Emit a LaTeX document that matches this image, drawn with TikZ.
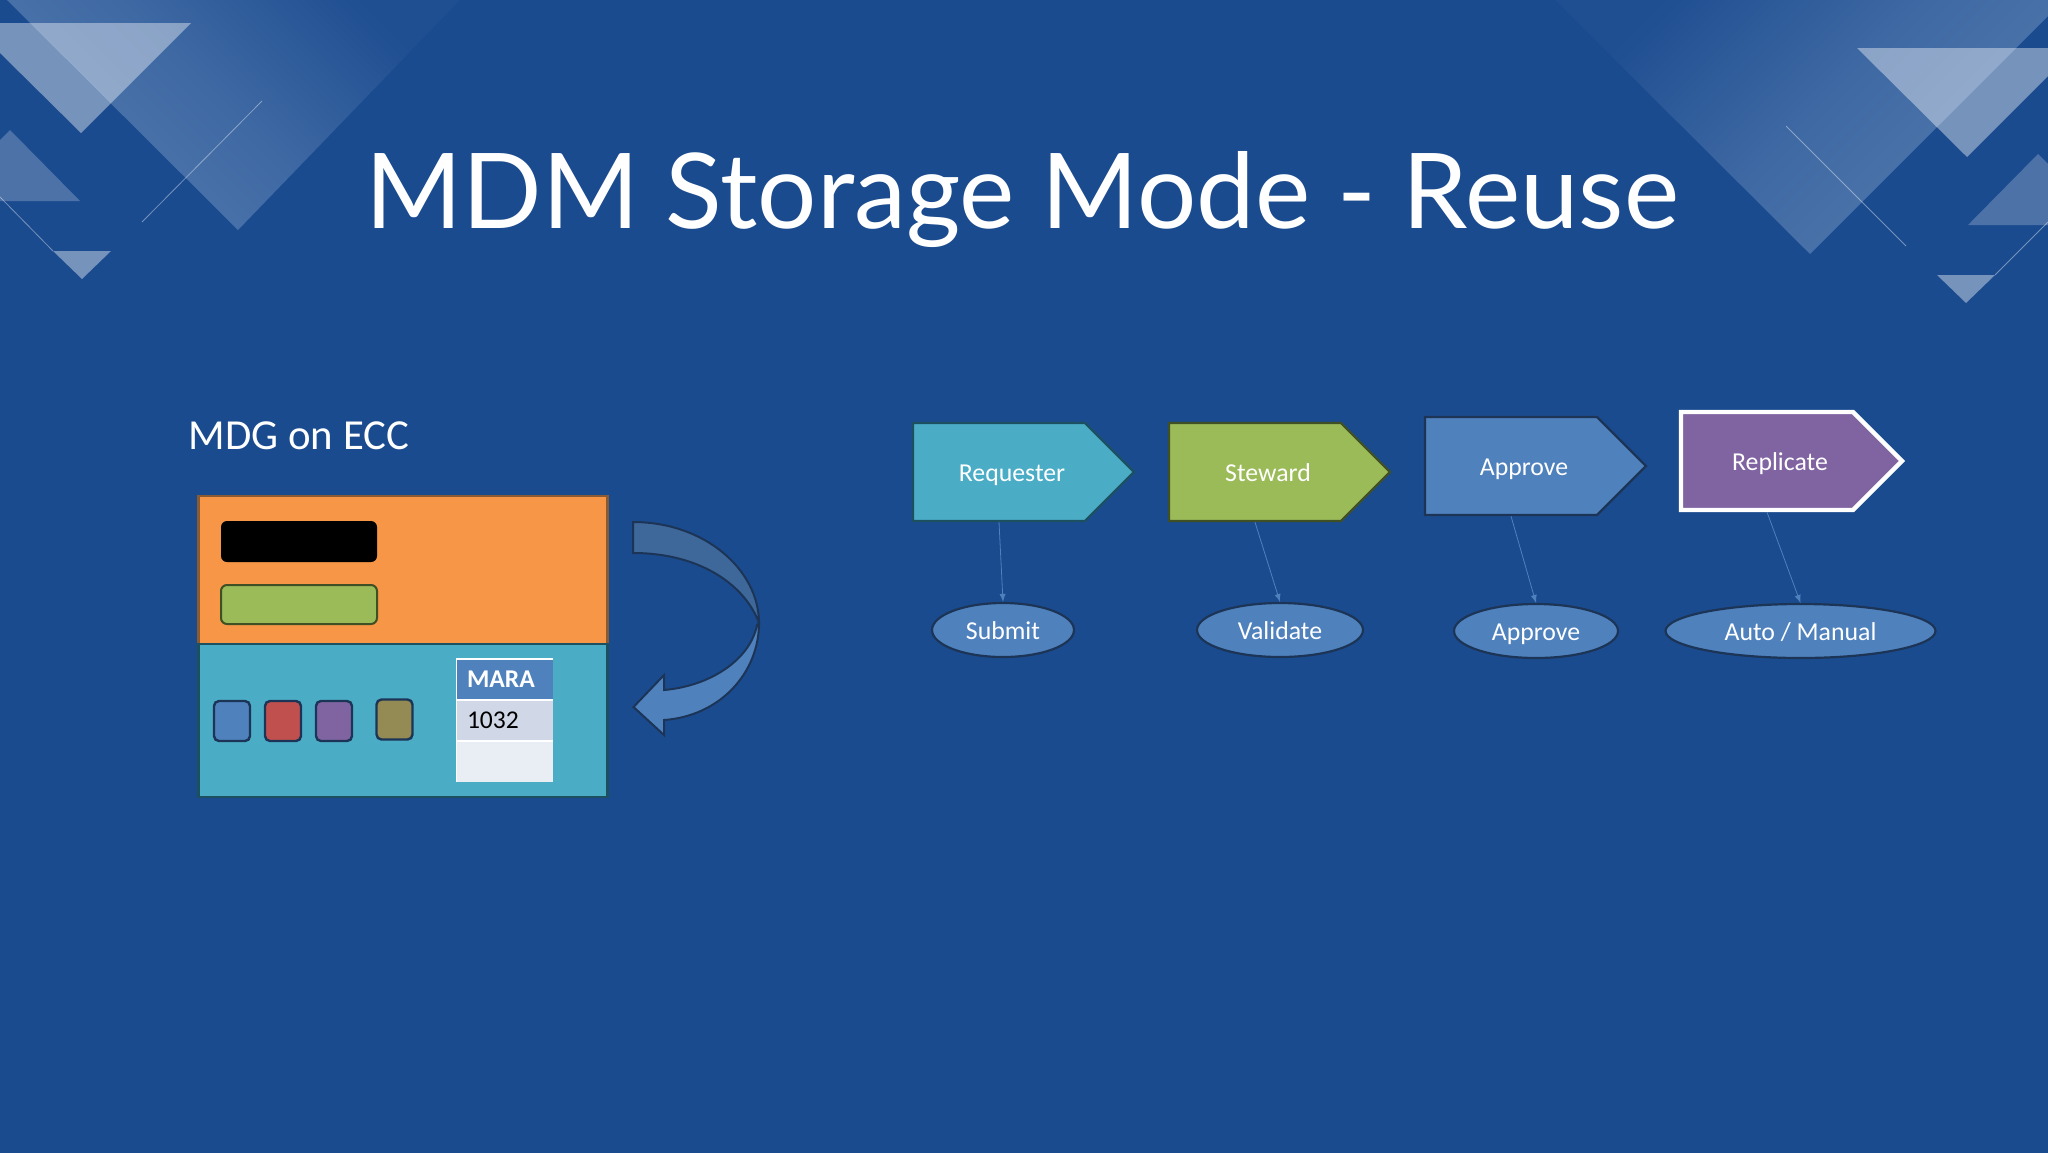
\documentclass[tikz,border=0pt]{standalone}
\usepackage{fontspec}
\setmainfont{Carlito}
\newfontfamily\titlefont{Lato}
\usetikzlibrary{arrows,positioning,shapes.symbols,shapes.geometric}
\tikzset{>=latex}
\definecolor{slidebg}{HTML}{1B4B8F}
\definecolor{orangefill}{HTML}{F79646}
\definecolor{tealfill}{HTML}{4BACC6}
\definecolor{greenfill}{HTML}{9BBB59}
\definecolor{bluefill}{HTML}{4F81BD}
\definecolor{redfill}{HTML}{C0504D}
\definecolor{purplefill}{HTML}{8064A2}
\definecolor{olivefill}{HTML}{948A54}
\definecolor{edgedark}{HTML}{1C3557}
\definecolor{edgegreen}{HTML}{3E5024}
\definecolor{edgeteal}{HTML}{1C5060}
\definecolor{edgeorange}{HTML}{8A5A32}
\definecolor{rowone}{HTML}{D0D8E8}
\definecolor{rowtwo}{HTML}{E9EDF4}
\definecolor{arrowback}{HTML}{3E679A}
\definecolor{decoglow}{HTML}{5279AE}

\begin{document}
\begin{tikzpicture}[x=0.5pt,y=-0.5pt,
	stage/.style={signal, signal to=east, signal pointer angle=90, minimum width=110.5pt, minimum height=49pt, inner sep=0pt, line width=1.2pt, text=white, text height=9pt, text depth=0pt, execute at begin node=\hspace*{13pt}, font=\fontsize{12.9pt}{14pt}\selectfont},
	task/.style={ellipse, fill=bluefill, draw=edgedark, line width=1.1pt, inner sep=0pt, minimum height=27pt, text=white, text height=9pt, text depth=0pt, font=\fontsize{12.9pt}{14pt}\selectfont},
	chip/.style={rounded corners=2.5pt, draw=edgedark, line width=1.2pt, minimum width=18pt, minimum height=20pt, inner sep=0pt},
	bar/.style={rounded corners=3pt, minimum width=78pt, inner sep=0pt},
	band/.style={minimum width=204.5pt, inner sep=0pt, line width=1.2pt},
	cell/.style={minimum width=48pt, inner sep=0pt, text width=37.5pt, align=left, font=\fontsize{12.8pt}{14pt}\selectfont},
	deco/.style={fill=white, opacity=#1},
	hair/.style={draw=white, opacity=.4, line width=.4pt},
	glow/.style={top color=decoglow!8!slidebg, bottom color=decoglow, middle color=decoglow!65!slidebg},
	node distance=128pt, on grid]
	\useasboundingbox (0,0) rectangle (2048,1152);
	\fill[slidebg] (-4,-4) rectangle (2052,1156);
	% corner shapes
	\shade[glow, shading angle=-45] (7,0) -- (460,0) -- (238,230) -- cycle;
	\fill[deco=.4] (0,23) -- (191,23) -- (81,133) -- (0,53) -- cycle;
	\fill[deco=.22] (0,140) -- (10,130) -- (80,201) -- (0,201) -- cycle;
	\fill[deco=.4] (53,251) -- (111,251) -- (82,279) -- cycle;
	\draw[hair] (262,101) -- (142,222);
	\draw[hair] (0,197) -- (53,251);
	\shade[glow, shading angle=45] (1555,0) -- (2048,0) -- (2048,16) -- (1810,254) -- cycle;
	\fill[deco=.4] (1857,48) -- (2048,48) -- (2048,76) -- (1967,157) -- cycle;
	\fill[deco=.22] (1968,225) -- (2038,154) -- (2048,164) -- (2048,225) -- cycle;
	\fill[deco=.4] (1937,275) -- (1995,275) -- (1966,303) -- cycle;
	\draw[hair] (1786,126) -- (1906,246);
	\draw[hair] (2048,222) -- (1995,275);

	\node[text=white, font=\titlefont\fontsize{52.3pt}{60pt}\selectfont] (title) at (1022,200) {MDM Storage Mode - Reuse};
	\node[text=white, font=\fontsize{21.4pt}{24pt}\selectfont] (mdg) at (299,436) {MDG on ECC};

	% system box
	\node[band, fill=orangefill, draw=edgeorange, minimum height=74pt] (upper) at (403,570) {};
	\node[band, fill=tealfill, draw=edgeteal, minimum height=76.5pt] (lower) at (403,720.5) {};
	\node[bar, fill=black, minimum height=20.5pt] (blackbar) at (299,541.5) {};
	\node[bar, fill=greenfill, draw=edgegreen, line width=1pt, minimum height=19.5pt] (greenbar) at (299,604.5) {};
	\node[chip, fill=bluefill] (c1) at (232,721) {};
	\node[chip, fill=redfill] (c2) at (283,721) {};
	\node[chip, fill=purplefill] (c3) at (334,721) {};
	\node[chip, fill=olivefill] (c4) at (394.5,719.5) {};

	% table
	\fill[white] (456,658) rectangle (553,782);
	\node[cell, fill=bluefill, text=white, minimum height=19.5pt, font=\bfseries\fontsize{12.8pt}{14pt}\selectfont] (mara) at (504.5,679) {MARA};
	\node[cell, fill=rowone, text=black, minimum height=19.5pt] (val) at (504.5,720.5) {1032};
	\node[cell, fill=rowtwo, minimum height=20pt] (blank) at (504.5,761.5) {};

	% curved arrow
	\draw[fill=arrowback, draw=edgedark, line width=1pt] (633,522) .. controls (705,522) and (759,570) .. (759,623) .. controls (745,585) and (700,553) .. (633,553) -- cycle;
	\draw[fill=bluefill, draw=edgedark, line width=1pt] (759,623) .. controls (759,673) and (720,716) .. (664,720) -- (664,735) -- (633.5,707) -- (664,675) -- (664,690) .. controls (710,686) and (750,660) .. (757,625) -- cycle;

	% flow
	\node[stage, fill=tealfill, draw=edgeteal] (req) at (999,472) {Requester};
	\node[stage, fill=greenfill, draw=edgegreen] (stew) [right=of req] {Steward};
	\node[stage, fill=bluefill, draw=edgedark] (appr) [right=of stew, yshift=3pt] {Approve};
	\node[stage, fill=purplefill, draw=white, line width=2.2pt] (repl) at (1767,461) {Replicate};

	\node[task, minimum width=71pt] (submit) at (1003,630) {Submit};
	\node[task, minimum width=83pt] (validate) at (1280,630) {Validate};
	\node[task, minimum width=82pt] (approve) at (1536,631) {Approve};
	\node[task, minimum width=135pt] (auto) at (1800.5,631) {Auto / Manual};

	\path[->,every edge/.style={draw=bluefill,line width=.4pt}]
		(req.south) edge (submit.north)
		(stew.south) edge (validate.north)
		(appr.south) edge (approve.north)
		(repl.south) edge (auto.north);
\end{tikzpicture}
\end{document}
